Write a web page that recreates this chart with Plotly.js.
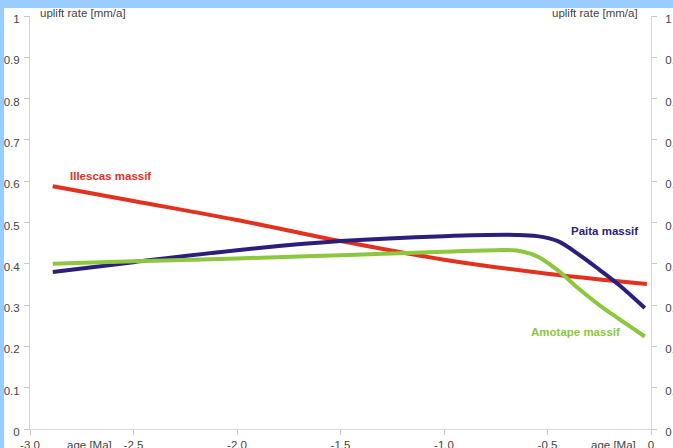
<!DOCTYPE html>
<html>
<head>
<meta charset="utf-8">
<script src="https://cdn.plot.ly/plotly-3.0.1.min.js"></script>
<style>
html, body { margin: 0; padding: 0; background: #99ccff; width: 673px; height: 448px; overflow: hidden; }
#chart { position: absolute; left: 4px; top: 8px; width: 669px; height: 440px; background: #fff; }
</style>
</head>
<body>
<div id="chart"></div>
<script>
// Data
const illescasAge = [-2.89, -2.5, -2.0, -1.5, -1.0, -0.5, -0.02];
const illescasRate = [0.588, 0.552, 0.506, 0.455, 0.41, 0.376, 0.351];

const paitaAge = [-2.89, -2.5, -2.0, -1.5, -1.0, -0.65, -0.55, -0.45, -0.35, -0.25, -0.15, -0.03];
const paitaRate = [0.380, 0.404, 0.433, 0.455, 0.467, 0.470, 0.467, 0.455, 0.423, 0.386, 0.347, 0.293];

const amotapeAge = [-2.89, -2.5, -2.0, -1.5, -1.0, -0.75, -0.65, -0.55, -0.45, -0.35, -0.25, -0.15, -0.03];
const amotapeRate = [0.400, 0.406, 0.413, 0.421, 0.429, 0.433, 0.432, 0.418, 0.384, 0.340, 0.300, 0.265, 0.224];

const xTickVals = [-3, -2.5, -2, -1.5, -1, -0.5, 0];
const xTickText = ['-3.0', '-2.5', '-2.0', '-1.5', '-1.0', '-0.5', '0'];

const seriesNames = ['Illescas massif', 'Paita massif', 'Amotape massif'];
const seriesColors = ['#e2321f', '#2c1f7c', '#8dc63f'];

const font = 'Liberation Sans, Arial, sans-serif';
const axisLine = '#d6d6d6';
const tickCol = '#c8c8c8';

const traces = [
  {x: illescasAge, y: illescasRate, name: seriesNames[0]},
  {x: paitaAge, y: paitaRate, name: seriesNames[1]},
  {x: amotapeAge, y: amotapeRate, name: seriesNames[2]}
].map((t, i) => Object.assign(t, {
  type: 'scatter', mode: 'lines',
  line: {color: seriesColors[i], width: 4, shape: 'spline', smoothing: 1},
  hoverinfo: 'skip'
}));
traces.push({x: [], y: [], yaxis: 'y2', type: 'scatter', mode: 'lines', showlegend: false});

const yCommon = {
  range: [0, 1], dtick: 0.1, tick0: 0,
  showgrid: false, zeroline: false,
  showline: true, linecolor: axisLine, linewidth: 1,
  ticks: 'outside', ticklen: 5, tickcolor: tickCol, tickwidth: 1,
  tickfont: {family: font, size: 11.5, color: '#444'},
  ticklabelshift: 3,
  fixedrange: true, automargin: false
};

const layout = {
  width: 669, height: 440,
  margin: {l: 26, r: 22, t: 8, b: 19, pad: 0},
  paper_bgcolor: '#ffffff', plot_bgcolor: '#ffffff',
  showlegend: false,
  font: {family: font},
  xaxis: {
    range: [-3, 0], tickvals: xTickVals, ticktext: xTickText,
    showgrid: false, zeroline: false,
    showline: true, linecolor: axisLine, linewidth: 1,
    ticks: 'outside', ticklen: 5, tickcolor: tickCol,
    tickfont: {family: font, size: 11.5, color: '#444'},
    automargin: false, fixedrange: true
  },
  yaxis: Object.assign({}, yCommon, {ticklabelstandoff: 2}),
  yaxis2: Object.assign({}, yCommon, {overlaying: 'y', side: 'right', ticklabelstandoff: 6}),
  annotations: [
    {text: 'Illescas massif', x: -2.609, y: 0.613, xref: 'x', yref: 'y', showarrow: false,
     font: {family: font, size: 11.5, color: seriesColors[0], weight: 'bold'}},
    {text: 'Paita massif', x: -0.227, y: 0.479, xref: 'x', yref: 'y', showarrow: false,
     font: {family: font, size: 11.5, color: seriesColors[1], weight: 'bold'}},
    {text: 'Amotape massif', x: -0.367, y: 0.235, xref: 'x', yref: 'y', showarrow: false,
     font: {family: font, size: 11.5, color: seriesColors[2], weight: 'bold'}},
    {text: 'uplift rate [mm/a]', x: 0.0129, y: 1.007, xref: 'paper', yref: 'paper', xanchor: 'left', yanchor: 'middle', showarrow: false,
     font: {family: font, size: 11.5, color: '#444'}},
    {text: 'uplift rate [mm/a]', x: 0.982, y: 1.007, xref: 'paper', yref: 'paper', xanchor: 'right', yanchor: 'middle', showarrow: false,
     font: {family: font, size: 11.5, color: '#444'}},
    {text: 'age [Ma]', x: 0.056, y: -0.0387, xref: 'paper', yref: 'paper', xanchor: 'left', yanchor: 'middle', showarrow: false,
     font: {family: font, size: 11.5, color: '#444'}},
    {text: 'age [Ma]', x: 0.979, y: -0.0387, xref: 'paper', yref: 'paper', xanchor: 'right', yanchor: 'middle', showarrow: false,
     font: {family: font, size: 11.5, color: '#444'}}
  ]
};

Plotly.newPlot('chart', traces, layout, {displayModeBar: false, staticPlot: true});
</script>
</body>
</html>
